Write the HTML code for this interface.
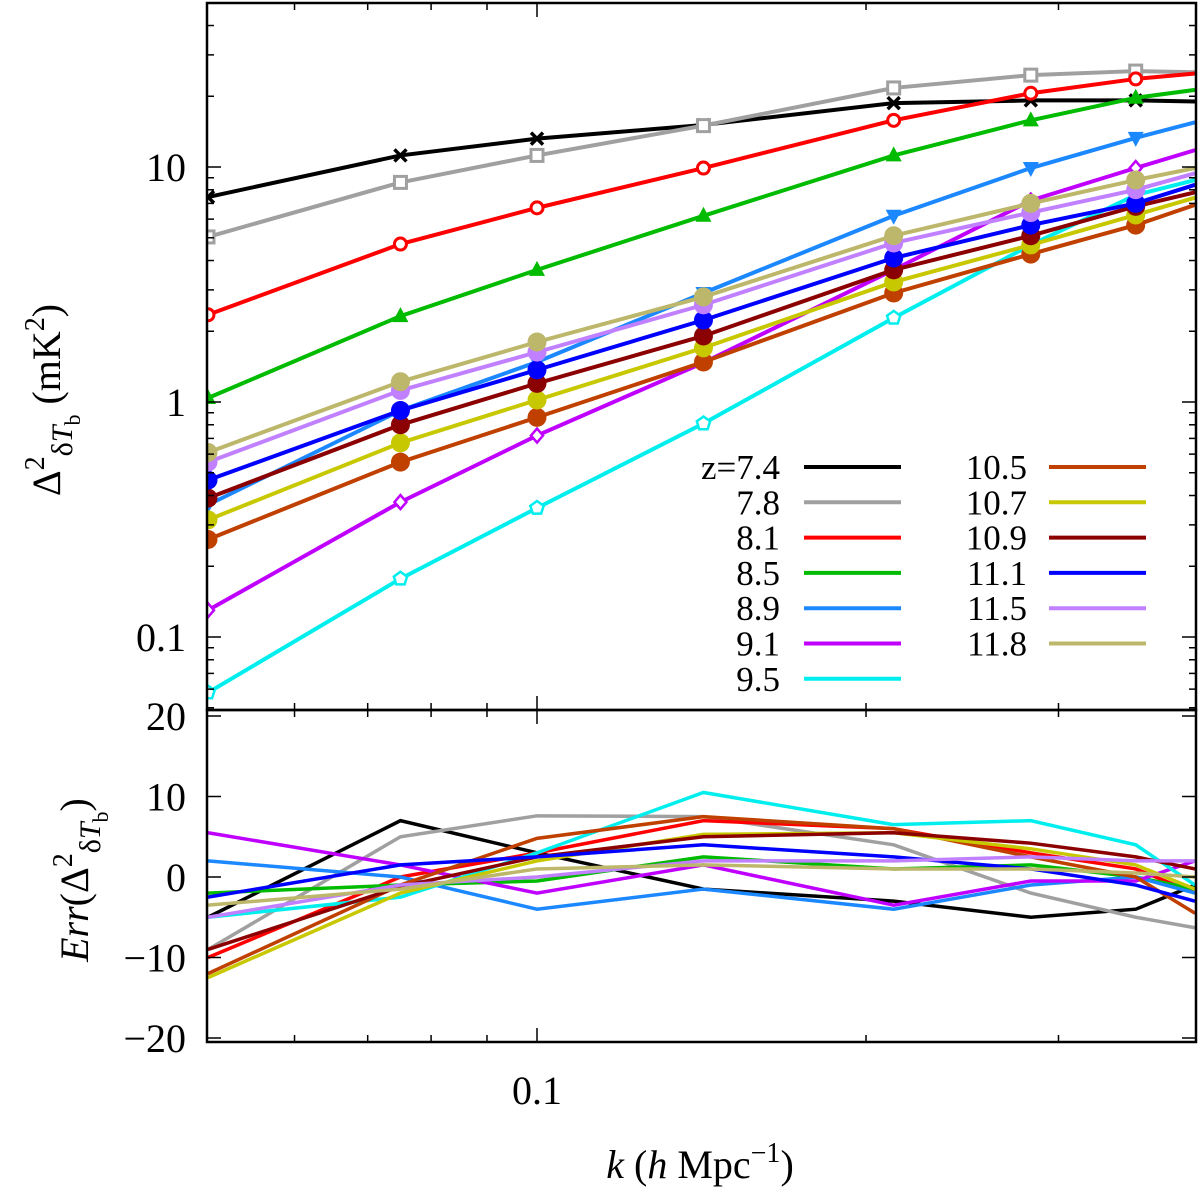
<!DOCTYPE html>
<html><head><meta charset="utf-8"><style>
body{margin:0;background:#fff}
svg{display:block;font-family:"Liberation Serif",serif}
svg text{font-family:"Liberation Serif",serif}
</style></head><body>
<svg id="chart" width="1200" height="1198" viewBox="0 0 1200 1198" xmlns="http://www.w3.org/2000/svg" font-family="Liberation Serif, serif">
<g id="top"></g>
<g id="bot"></g>
<g id="legend" font-family="Liberation Serif, serif"></g>
<g id="axes" font-family="Liberation Serif, serif"></g>
<text transform="translate(60,400) rotate(-90)" text-anchor="middle" font-size="40">Δ<tspan dy="-16" font-size="28">2</tspan><tspan dy="28" font-size="30">δ<tspan font-style="italic">T</tspan><tspan dy="8" font-size="22">b</tspan></tspan><tspan dy="-20"> (mK</tspan><tspan dy="-16" font-size="28">2</tspan><tspan dy="16">)</tspan></text>
<text transform="translate(88,880) rotate(-90)" text-anchor="middle" font-size="40"><tspan font-style="italic">Err</tspan>(Δ<tspan dy="-16" font-size="28">2</tspan><tspan dy="28" font-size="30">δ<tspan font-style="italic">T</tspan><tspan dy="8" font-size="22">b</tspan></tspan><tspan dy="-20">)</tspan></text>
<text x="700" y="1178" text-anchor="middle" font-size="40"><tspan font-style="italic">k</tspan> (<tspan font-style="italic">h</tspan> Mpc<tspan dy="-16" font-size="28">−1</tspan><tspan dy="16">)</tspan></text>
</svg>
<script>
const kVals=[0.05,0.075,0.1,0.142,0.212,0.283,0.353,0.4];
const zLabels=["z=7.4","7.8","8.1","8.5","8.9","9.1","9.5","10.5","10.7","10.9","11.1","11.5","11.8"];
const colors=["#000000","#a0a0a0","#ff0000","#00bb00","#1c88ff","#c000ff","#00eeee","#c04000","#c8c800","#8b0000","#0000ff","#c080ff","#bdb76b"];
const markers=["x","sq","oc","tu","td","di","pe","fc","fc","fc","fc","fc","fc"];
const p74=[7.45,11.2,13.2,15.1,18.7,19.2,19.2,19.0];
const p78=[5.04,8.6,11.2,15.0,21.7,24.6,25.6,25.3];
const p81=[2.35,4.7,6.7,9.9,15.8,20.6,23.7,25];
const p85=[1.04,2.32,3.65,6.2,11.2,15.8,19.7,21.3];
const p89=[0.365,0.92,1.48,2.91,6.2,9.9,13.3,15.5];
const p91=[0.13,0.375,0.72,1.47,3.65,7.2,9.9,11.8];
const p95=[0.058,0.177,0.354,0.81,2.28,4.66,7.6,8.8];
const p105=[0.26,0.555,0.86,1.48,2.91,4.26,5.66,6.9];
const p107=[0.315,0.67,1.02,1.70,3.24,4.66,6.25,7.4];
const p109=[0.39,0.80,1.20,1.91,3.65,5.1,6.8,7.8];
const p111=[0.465,0.92,1.37,2.23,4.1,5.66,7.0,8.4];
const p115=[0.555,1.12,1.63,2.59,4.75,6.4,8.0,9.4];
const p118=[0.61,1.22,1.8,2.8,5.1,7.0,8.8,9.9];
const e74=[-5,7,3,-1.5,-3,-5,-4,-1];
const e78=[-9,5,7.6,7.5,4,-2,-5,-6.3];
const e81=[-10,0,3,7,6,3,1,-2];
const e85=[-2,-1,-0.5,2.5,1,1.5,0,-1.5];
const e89=[2,0,-4,-1.5,-4,-1,0,-2];
const e91=[5.5,1.5,-2,1.5,-3.5,-0.5,-0.5,2];
const e95=[-5,-2.5,3,10.5,6.5,7,4,-1];
const e105=[-12,-1,4.8,7.5,6,2.5,0,-4.5];
const e107=[-12.5,-2,2,5.3,5.5,3.5,1.5,-1.5];
const e109=[-9,-1.2,2.5,5,5.5,4.2,2.5,1];
const e111=[-2.5,1.5,2.5,4,2.5,1,-1,-3];
const e115=[-5,-1,0,2,2,2.5,2,2];
const e118=[-3.5,-1.5,1,1.5,1,1,0.5,0];
const yTicksTop=[0.1,1,10];
const yTickLabelsTop=["0.1","1","10"];
const yTicksBot=[-20,-10,0,10,20];
const yTickLabelsBot=["−20","−10","0","10","20"];
const xTickMajor=[0.1];
const xTickMajorLabels=["0.1"];
const xTickMinor=[0.06,0.07,0.08,0.09,0.2,0.3];

const P=[p74,p78,p81,p85,p89,p91,p95,p105,p107,p109,p111,p115,p118];
const E=[e74,e78,e81,e85,e89,e91,e95,e105,e107,e109,e111,e115,e118];
const L=207,R=1196,T=3,M=710,B=1042;
const FF="Liberation Serif, serif";
const xs=k=>537+1093*Math.log10(k/0.1);
const yt=v=>402-235*Math.log10(v);
const yb=v=>877-8.05*v;
const NS="http://www.w3.org/2000/svg";
function mk(tag,attrs,parent){const e=document.createElementNS(NS,tag);for(const a in attrs)e.setAttribute(a,attrs[a]);parent.appendChild(e);return e;}
const topG=document.getElementById('top'),botG=document.getElementById('bot'),axesG=document.getElementById('axes'),legG=document.getElementById('legend');
const defs=mk('defs',{},document.getElementById('chart'));
const c1=mk('clipPath',{id:'ct'},defs);mk('rect',{x:L,y:T,width:R-L,height:M-T},c1);
const c2=mk('clipPath',{id:'cb'},defs);mk('rect',{x:L,y:M,width:R-L,height:B-M},c2);
topG.setAttribute('clip-path','url(#ct)');botG.setAttribute('clip-path','url(#cb)');

function marker(type,x,y,col,g){
  let e;
  if(type==='x'){e=mk('path',{d:`M${x-6},${y-6}L${x+6},${y+6}M${x-6},${y+6}L${x+6},${y-6}`,stroke:col,'stroke-width':3.5,fill:'none'},g);}
  else if(type==='sq'){e=mk('rect',{x:x-6,y:y-6,width:12,height:12,stroke:col,'stroke-width':3,fill:'#fff'},g);}
  else if(type==='oc'){e=mk('circle',{cx:x,cy:y,r:6,stroke:col,'stroke-width':3,fill:'#fff'},g);}
  else if(type==='tu'){e=mk('path',{d:`M${x},${y-9}L${x+8},${y+6}L${x-8},${y+6}Z`,fill:col},g);}
  else if(type==='td'){e=mk('path',{d:`M${x},${y+9}L${x+8},${y-6}L${x-8},${y-6}Z`,fill:col},g);}
  else if(type==='di'){e=mk('path',{d:`M${x},${y-7}L${x+6},${y}L${x},${y+7}L${x-6},${y}Z`,stroke:col,'stroke-width':2.5,fill:'#fff'},g);}
  else if(type==='pe'){let d='';for(let i=0;i<5;i++){const a=-Math.PI/2+i*2*Math.PI/5;d+=(i?'L':'M')+(x+7*Math.cos(a)).toFixed(1)+','+(y+7*Math.sin(a)).toFixed(1);}e=mk('path',{d:d+'Z',stroke:col,'stroke-width':2.5,fill:'#fff'},g);}
  else {e=mk('circle',{cx:x,cy:y,r:9.5,fill:col},g);}
  
  
}
P.forEach((s,i)=>{
  const g=mk('g',{},topG);
  
  
  const ln=mk('polyline',{points:s.map((v,j)=>xs(kVals[j])+','+yt(v)).join(' '),fill:'none',stroke:colors[i],'stroke-width':4},g);
  
  
  s.slice(0,7).forEach((v,j)=>marker(markers[i],xs(kVals[j]),yt(v),colors[i],g));
});
E.forEach((s,i)=>{
  const ln=mk('polyline',{points:s.map((v,j)=>xs(kVals[j])+','+yb(v)).join(' '),fill:'none',stroke:colors[i],'stroke-width':3.5},botG);
  
  
});
[[T,M],[M,B]].forEach(([a,b])=>{
  const r=mk('rect',{x:L,y:a,width:R-L,height:b-a,fill:'none',stroke:'#000','stroke-width':2.5},axesG);
  
  
});
function tick(x1,y1,x2,y2){mk('line',{x1,y1,x2,y2,stroke:'#000','stroke-width':1.5},axesG);}
for(let d=-2;d<=1;d++)for(let m=1;m<10;m++){const v=m*Math.pow(10,d);const y=yt(v);if(y<T||y>M)continue;const len=m===1?14:7;tick(L,y,L+len,y);tick(R,y,R-len,y);}
yTicksTop.forEach((v,i)=>{
  const t=mk('text',{x:186,y:yt(v)+14,'text-anchor':'end','font-size':40,'font-family':FF},axesG);t.textContent=yTickLabelsTop[i];
  
  
});
yTicksBot.forEach((v,i)=>{
  const y=yb(v);tick(L,y,L+14,y);tick(R,y,R-14,y);
  const t=mk('text',{x:186,y:y+14,'text-anchor':'end','font-size':40,'font-family':FF},axesG);t.textContent=yTickLabelsBot[i];
  
  
});
[T,M].forEach(y0=>{
  xTickMajor.forEach(k=>{const x=xs(k);tick(x,y0,x,y0+14);});
  xTickMinor.forEach(k=>{const x=xs(k);tick(x,y0,x,y0+7);});
});
[M,B].forEach(y0=>{
  xTickMajor.forEach(k=>{const x=xs(k);tick(x,y0,x,y0-14);});
  xTickMinor.forEach(k=>{const x=xs(k);tick(x,y0,x,y0-7);});
});
xTickMajor.forEach((k,i)=>{
  const t=mk('text',{x:xs(k),y:1104,'text-anchor':'middle','font-size':40,'font-family':FF},axesG);t.textContent=xTickMajorLabels[i];
  
  
});
zLabels.forEach((lab,i)=>{
  const col=i<7?0:1,row=i<7?i:i-7;
  const y=467+row*35.3;
  const tx=col?1027:780,lx=col?1049:804;
  const g=mk('g',{},legG);
  
  
  const t=mk('text',{x:tx,y:y+12,'text-anchor':'end','font-size':35,'font-family':FF},g);t.textContent=lab;
  mk('line',{x1:lx,y1:y,x2:lx+97,y2:y,stroke:colors[i],'stroke-width':4},g);
});
</script>
</body></html>
